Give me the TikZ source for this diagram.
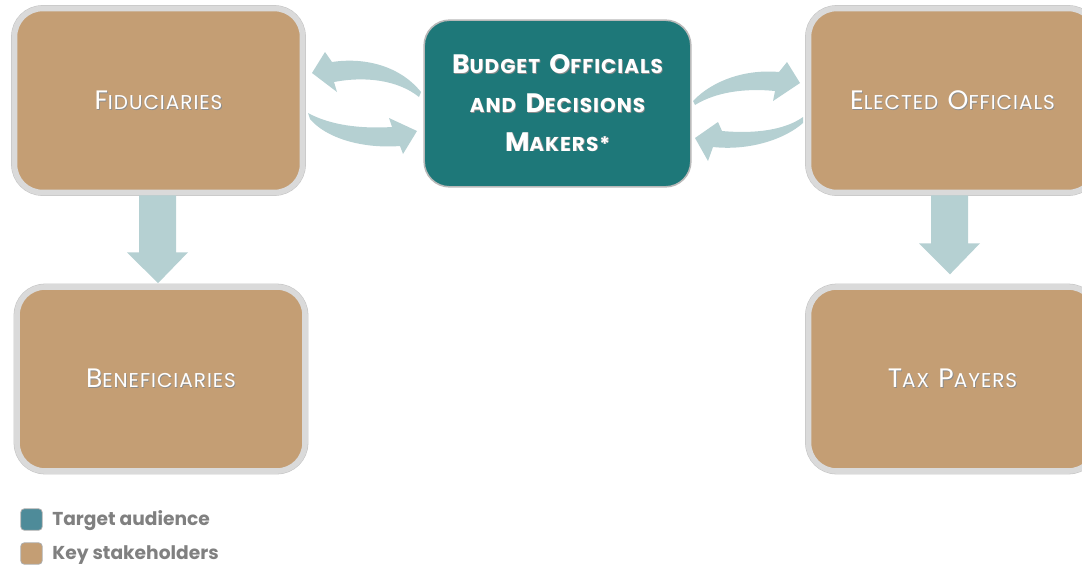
\documentclass[tikz,border=0pt]{standalone}
\usepackage{fontspec}
\setmainfont{Poppins}
\usetikzlibrary{calc}

\definecolor{boxtan}{RGB}{196,158,116}
\definecolor{boxteal}{RGB}{30,120,121}
\definecolor{rimgray}{RGB}{218,218,218}
\definecolor{rimedge}{RGB}{196,196,196}
\definecolor{flowblue}{RGB}{181,208,210}
\definecolor{legteal}{RGB}{78,139,153}
\definecolor{legtext}{RGB}{128,128,128}
\definecolor{shade}{RGB}{140,140,140}

% white lettering with a soft grey drop edge
\newcommand\emboss[1]{\makebox[0pt][l]{\hspace{0.6pt}\raisebox{-0.6pt}{\color{shade}#1}}#1}
% hand-made small capitals: large initial, smaller remainder, slightly tracked
\newcommand\bigc[1]{{\fontsize{20}{20}\selectfont\addfontfeature{LetterSpace=5}#1}}
\newcommand\smlc[1]{{\fontsize{15}{15}\selectfont\addfontfeature{LetterSpace=5}#1}}
\newcommand\gap{\hspace{7pt}}

\tikzset{
  x=0.75pt, y=-0.75pt,
  tanbox/.style={draw=rimgray, line width=4.2pt, fill=boxtan, rounded corners=21pt,
    preaction={draw=rimedge, line width=5pt},
    minimum width=216pt, minimum height=138pt, inner sep=0pt, text=white},
  tealbox/.style={draw=rimgray!85!black, line width=1.2pt, fill=boxteal, rounded corners=19pt,
    minimum width=200pt, minimum height=125pt, inner sep=0pt, text=white, align=center,
    font=\bfseries\fontsize{15}{29}\selectfont},
  flow/.style={fill=flowblue, draw=none},
  legsq/.style={draw=rimgray!80!black, line width=0.6pt, rounded corners=2.5pt,
    minimum width=16pt, minimum height=16pt, inner sep=0pt},
  legtxt/.style={anchor=west, text=legtext, font=\bfseries\fontsize{14}{15}\selectfont, inner sep=0pt}
}

\begin{document}
\begin{tikzpicture}
\useasboundingbox (0,0) rectangle (1082,568);
\clip (0,0) rectangle (1082,568);

% stakeholder boxes
\node[tanbox] (fid) at (158.5,100.5) {\emboss{\bigc{F}\smlc{IDUCIARIES}}};
\node[tanbox] (ben) at (161,379) {\emboss{\bigc{B}\smlc{ENEFICIARIES}}};
\node[tanbox] (eo)  at (952.5,100.5) {\emboss{\bigc{E}\smlc{LECTED}\gap\bigc{O}\smlc{FFICIALS}}};
\node[tanbox] (tp)  at (952.5,379) {\emboss{\bigc{T}\smlc{AX}\gap\bigc{P}\smlc{AYERS}}};

% target audience
\node[tealbox] (bud) at (557.5,103.5) {%
  \emboss{\bigc{B}\smlc{UDGET}\gap\bigc{O}\smlc{FFICIALS}}\\
  \emboss{\smlc{AND}\gap\bigc{D}\smlc{ECISIONS}}\\
  \emboss{\bigc{M}\smlc{AKERS*}}};

% downward block arrows
\fill[flow] ($(fid.south)+(-19.5,0)$) -- ++(37,0) -- ++(0,57) -- ++(12,0)
  -- ($(ben.north)+(-3,-1)$) -- ($(fid.south)+(-31.5,57)$) -- ++(12,0) -- cycle;
\fill[flow] ($(eo.south)+(-21.5,0)$) -- ++(37,0) -- ++(0,48) -- ++(12,0)
  -- ($(eo.south)+(-2.5,79)$) -- ($(eo.south)+(-33.5,48)$) -- ++(12,0) -- cycle;

% curved exchange arrows between the decision makers and their neighbours
\fill[flow] (421,92) .. controls (400,66) and (365,57) .. (332,62)
  -- (325,52) -- (312,73) -- (337,92) -- (334,82)
  .. controls (365,76) and (398,80) .. (419,97) -- cycle;
\fill[flow] (308,113) .. controls (330,125) and (360,129) .. (392,127)
  -- (389,118) -- (417,131) -- (403,154) -- (400,146)
  .. controls (360,149) and (325,137) .. (310,119) -- cycle;
\fill[flow] (693,101) .. controls (713,80) and (746,69) .. (779,72)
  -- (787,62) -- (800,83) -- (773,101) -- (775,91)
  .. controls (745,88) and (716,92) .. (695,105) -- cycle;
\fill[flow] (803,117) .. controls (785,130) and (755,134) .. (722,131)
  -- (718,122) -- (695,138) -- (708,161) -- (713,147)
  .. controls (750,151) and (785,139) .. (803,123) -- cycle;

% legend
\node[legsq, fill=legteal] (lg1) at (31.5,519.5) {};
\node[legsq, fill=boxtan]  (lg2) at (31.5,553.5) {};
\node[legtxt] (lt1) at (52,521) {Target audience};
\node[legtxt] (lt2) at (52,555) {Key stakeholders};
\end{tikzpicture}
\end{document}
